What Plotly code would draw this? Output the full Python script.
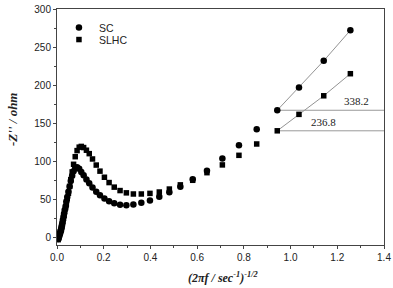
import plotly.graph_objects as go

# ---- data ----
x_sc = [0.005, 0.007, 0.009, 0.011, 0.013, 0.015, 0.017, 0.019, 0.021, 0.023, 0.025, 0.028,
        0.030, 0.033, 0.037, 0.040, 0.044, 0.049, 0.054, 0.059, 0.065, 0.071, 0.078, 0.086,
        0.095, 0.104, 0.114, 0.126, 0.138, 0.152, 0.168, 0.184, 0.203, 0.223, 0.245, 0.270,
        0.297, 0.327, 0.361, 0.398, 0.438, 0.481, 0.528, 0.581, 0.642, 0.708, 0.779, 0.855,
        0.943, 1.036, 1.142, 1.256]
y_sc = [-2, 0, 2, 4, 6, 8, 10, 13, 16, 19, 23, 27,
        31, 36, 41, 47, 53, 60, 67, 74, 81, 87, 91, 92,
        90, 86, 81.5, 76, 71, 65.5, 60, 55.5, 51, 47.5, 44.8, 43,
        42.3, 43.2, 45.4, 48.5, 53.3, 59.4, 66.5, 76.4, 87.5, 103.5, 121, 142,
        167, 197, 232, 272]

x_slhc = x_sc
y_slhc = [-3, -1, 1, 3, 5, 7, 9, 11, 14, 17, 21, 25,
          29, 34, 39, 44, 51, 58, 67, 76, 86, 96, 106, 114,
          118.5, 119.5, 118, 114.5, 110, 103, 95, 87, 79, 72, 66, 61.5,
          58.5, 57, 57, 57.8, 59.6, 63.5, 69, 75, 85, 95.2, 107.8, 122.7,
          140, 161.6, 186, 215]

# tail points used for the straight-line fits and intercept lines
tail_x = [0.943, 1.036, 1.142, 1.256]
tail_sc = [167, 197, 232, 272]
tail_slhc = [140, 161.6, 186, 215]
h_line_x = [0.943, 1.4]
label_sc = "338.2"
label_slhc = "236.8"

x_ticks = [0.0, 0.2, 0.4, 0.6, 0.8, 1.0, 1.2, 1.4]
x_ticklabels = ["0.0", "0.2", "0.4", "0.6", "0.8", "1.0", "1.2", "1.4"]
y_ticks = [0, 50, 100, 150, 200, 250, 300]

fig = go.Figure()

# fit lines
fig.add_trace(go.Scatter(x=tail_x, y=tail_sc, mode="lines",
                         line=dict(color="#777777", width=0.8), showlegend=False, hoverinfo="skip"))
fig.add_trace(go.Scatter(x=tail_x, y=tail_slhc, mode="lines",
                         line=dict(color="#777777", width=0.8), showlegend=False, hoverinfo="skip"))
# horizontal intercept lines
fig.add_trace(go.Scatter(x=h_line_x, y=[tail_sc[0], tail_sc[0]], mode="lines",
                         line=dict(color="#999999", width=1), showlegend=False, hoverinfo="skip"))
fig.add_trace(go.Scatter(x=h_line_x, y=[tail_slhc[0], tail_slhc[0]], mode="lines",
                         line=dict(color="#999999", width=1), showlegend=False, hoverinfo="skip"))

fig.add_trace(go.Scatter(x=x_sc, y=y_sc, mode="markers", name="SC", legend="legend",
                         marker=dict(symbol="circle", size=6.5, color="black")))
fig.add_trace(go.Scatter(x=x_slhc, y=y_slhc, mode="markers", name="SLHC", legend="legend2",
                         marker=dict(symbol="square", size=5.5, color="black")))

fig.add_annotation(x=1.283, y=tail_sc[0], yshift=9, text=label_sc, showarrow=False,
                   font=dict(family="Liberation Serif", size=11, color="#222"))
fig.add_annotation(x=1.143, y=tail_slhc[0], yshift=9, text=label_slhc, showarrow=False,
                   font=dict(family="Liberation Serif", size=11, color="#222"))

# axis titles placed as annotations
fig.add_annotation(xref="paper", yref="paper", x=0.508, y=-0.138, xanchor="center", yanchor="middle",
                   text="<b><i>(2πf / sec<sup>-1</sup>)<sup>-1/2</sup></i></b>", showarrow=False,
                   font=dict(family="Liberation Serif", size=12, color="#222"))
fig.add_annotation(xref="paper", yref="paper", x=-0.1346, y=0.534, xanchor="center", yanchor="middle",
                   textangle=-90, text="<b><i>-Z'' / ohm</i></b>", showarrow=False,
                   font=dict(family="Liberation Serif", size=13, color="#222"))

axis_common = dict(showline=True, linecolor="#444", linewidth=1, mirror=True, automargin=False,
                   ticks="outside", ticklen=3, tickcolor="#444", showgrid=False, zeroline=False,
                   tickfont=dict(family="Liberation Sans", size=10, color="#222"))

fig.update_xaxes(range=[0, 1.4], tickvals=x_ticks, ticktext=x_ticklabels,
                 minor=dict(dtick=0.1, ticks="outside", ticklen=2, tickcolor="#444"),
                 **axis_common)
fig.update_yaxes(range=[-10, 300], tickvals=y_ticks,
                 minor=dict(dtick=25, ticks="outside", ticklen=2, tickcolor="#444"),
                 **axis_common)

legend_common = dict(xanchor="left", yanchor="top",
                     font=dict(family="Liberation Sans", size=10.5, color="#222"),
                     bgcolor="rgba(0,0,0,0)", itemwidth=30)

fig.update_layout(
    width=393, height=288,
    margin=dict(l=57, r=9, t=9, b=43),
    paper_bgcolor="white", plot_bgcolor="white",
    legend=dict(x=0.006, y=0.983, **legend_common),
    legend2=dict(x=0.006, y=0.932, **legend_common),
    showlegend=True,
)

fig.write_html("out.html", config={"displayModeBar": False},
               post_script="document.body.style.margin='0';document.body.style.padding='0';")
